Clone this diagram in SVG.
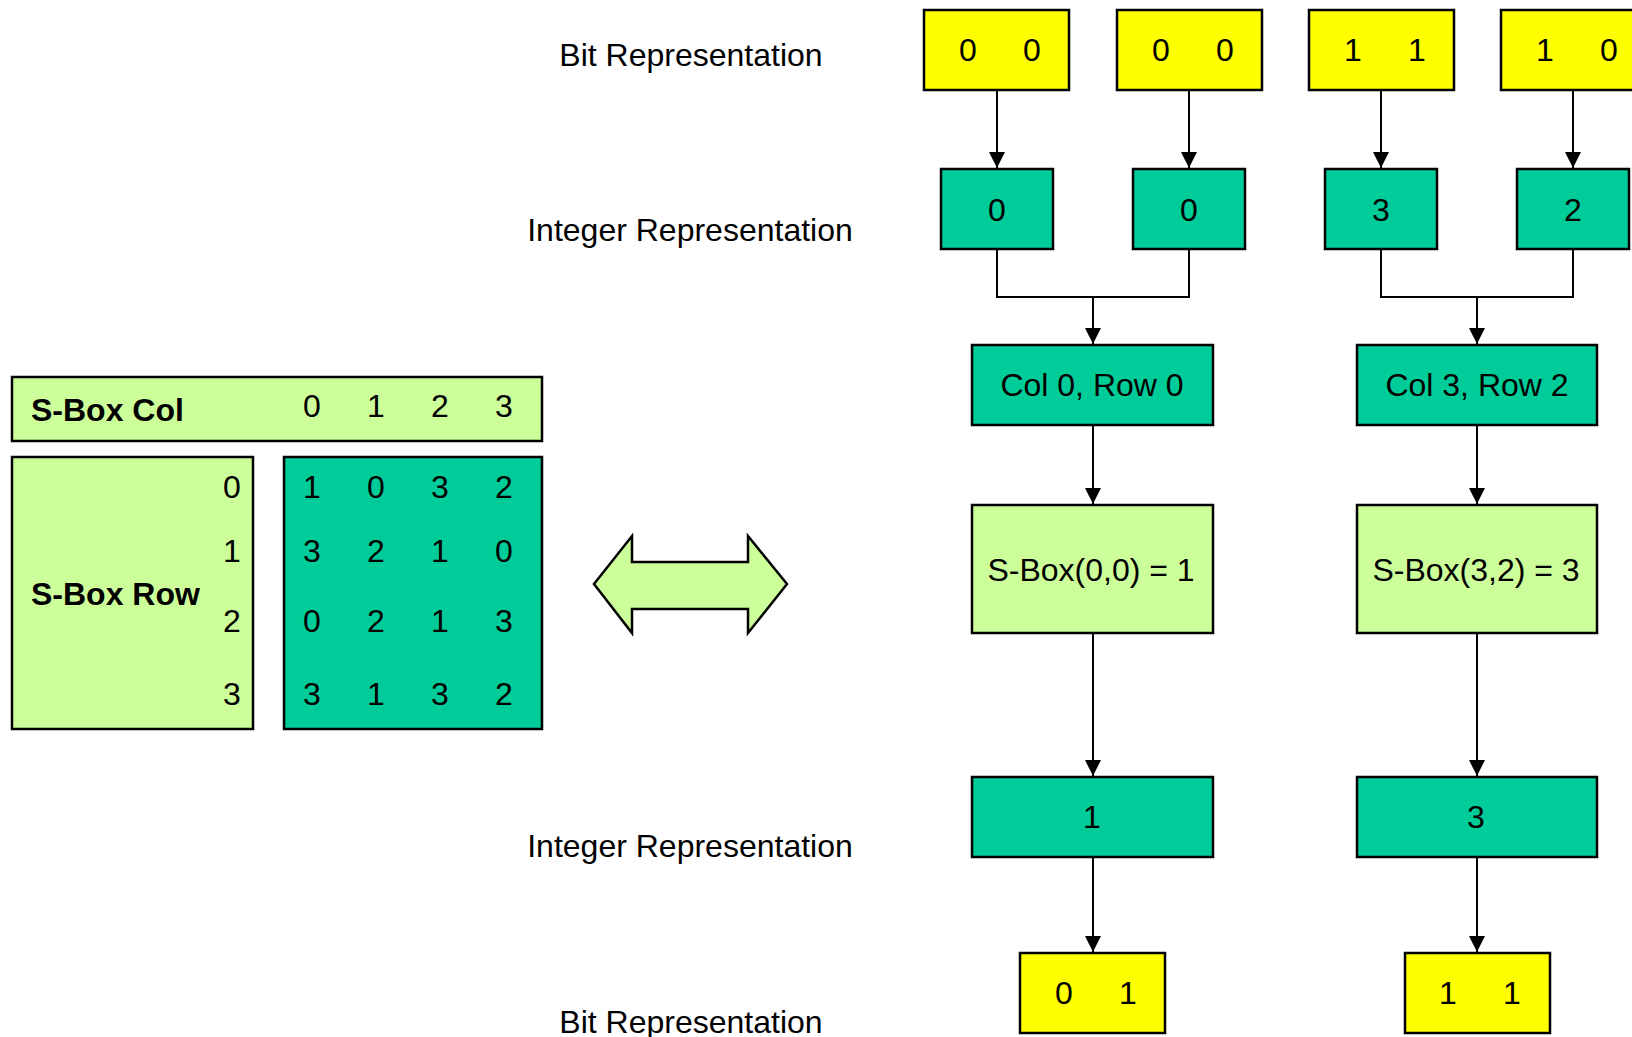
<svg xmlns="http://www.w3.org/2000/svg" width="1632" height="1037" viewBox="0 0 1632 1037">
  <style>
    text { font-family: "Liberation Sans", Arial, Helvetica, sans-serif; font-size: 32px; fill: #000; }
    .c { text-anchor: middle; }
    .b { font-weight: bold; }
    .box { stroke: #000; stroke-width: 2.5; }
    .yel { fill: #FFFF00; }
    .grn { fill: #00CC99; }
    .lgt { fill: #CCFF99; }
    .wire { fill: none; stroke: #000; stroke-width: 2; }
  </style>
  <defs>
    <marker id="head" markerUnits="userSpaceOnUse" markerWidth="16" markerHeight="16" viewBox="0 0 16 16" refX="16" refY="8" orient="auto">
      <path d="M0,0 L16,8 L0,16 z" fill="#000"/>
    </marker>
  </defs>
  <rect width="1632" height="1037" fill="#fff"/>

  <!-- row labels -->
  <g id="labels">
    <text class="c" x="691" y="66">Bit Representation</text>
    <text class="c" x="690" y="241">Integer Representation</text>
    <text class="c" x="690" y="857">Integer Representation</text>
    <text class="c" x="691" y="1033">Bit Representation</text>
  </g>

  <!-- S-Box lookup table -->
  <g id="sbox-col">
    <rect class="box lgt" x="12" y="377" width="530" height="64"/>
    <text class="b" x="31" y="421">S-Box Col</text>
    <text class="c" x="312" y="417">0</text>
    <text class="c" x="376" y="417">1</text>
    <text class="c" x="440" y="417">2</text>
    <text class="c" x="504" y="417">3</text>
  </g>
  <g id="sbox-row">
    <rect class="box lgt" x="12" y="457" width="241" height="272"/>
    <text class="b" x="31" y="605">S-Box Row</text>
    <text class="c" x="232" y="498">0</text>
    <text class="c" x="232" y="562">1</text>
    <text class="c" x="232" y="632">2</text>
    <text class="c" x="232" y="705">3</text>
  </g>
  <g id="sbox-values">
    <rect class="box grn" x="284" y="457" width="258" height="272"/>
    <text class="c" x="312" y="498">1</text><text class="c" x="376" y="498">0</text><text class="c" x="440" y="498">3</text><text class="c" x="504" y="498">2</text>
    <text class="c" x="312" y="562">3</text><text class="c" x="376" y="562">2</text><text class="c" x="440" y="562">1</text><text class="c" x="504" y="562">0</text>
    <text class="c" x="312" y="632">0</text><text class="c" x="376" y="632">2</text><text class="c" x="440" y="632">1</text><text class="c" x="504" y="632">3</text>
    <text class="c" x="312" y="705">3</text><text class="c" x="376" y="705">1</text><text class="c" x="440" y="705">3</text><text class="c" x="504" y="705">2</text>
  </g>

  <!-- double-headed block arrow -->
  <g id="equiv-arrow">
    <polygon class="box lgt" points="594,584 632,536 632,562 748,562 748,536 787,584 748,633 748,609 632,609 632,633"/>
  </g>

  <!-- input bit pairs -->
  <g id="bits-in-1"><rect class="box yel" x="924" y="10" width="145" height="80"/><text class="c" x="968" y="61">0</text><text class="c" x="1032" y="61">0</text></g>
  <g id="bits-in-2"><rect class="box yel" x="1117" y="10" width="145" height="80"/><text class="c" x="1161" y="61">0</text><text class="c" x="1225" y="61">0</text></g>
  <g id="bits-in-3"><rect class="box yel" x="1309" y="10" width="145" height="80"/><text class="c" x="1353" y="61">1</text><text class="c" x="1417" y="61">1</text></g>
  <g id="bits-in-4"><rect class="box yel" x="1501" y="10" width="145" height="80"/><text class="c" x="1545" y="61">1</text><text class="c" x="1609" y="61">0</text></g>

  <!-- integer values -->
  <g id="int-in-1"><rect class="box grn" x="941" y="169" width="112" height="80"/><text class="c" x="997" y="221">0</text></g>
  <g id="int-in-2"><rect class="box grn" x="1133" y="169" width="112" height="80"/><text class="c" x="1189" y="221">0</text></g>
  <g id="int-in-3"><rect class="box grn" x="1325" y="169" width="112" height="80"/><text class="c" x="1381" y="221">3</text></g>
  <g id="int-in-4"><rect class="box grn" x="1517" y="169" width="112" height="80"/><text class="c" x="1573" y="221">2</text></g>

  <!-- table coordinates -->
  <g id="coord-1"><rect class="box grn" x="972" y="345" width="241" height="80"/><text class="c" x="1092" y="396">Col 0, Row 0</text></g>
  <g id="coord-2"><rect class="box grn" x="1357" y="345" width="240" height="80"/><text class="c" x="1477" y="396">Col 3, Row 2</text></g>

  <!-- lookups -->
  <g id="lookup-1"><rect class="box lgt" x="972" y="505" width="241" height="128"/><text class="c" x="1091" y="581">S-Box(0,0) = 1</text></g>
  <g id="lookup-2"><rect class="box lgt" x="1357" y="505" width="240" height="128"/><text class="c" x="1476" y="581">S-Box(3,2) = 3</text></g>

  <!-- output integers -->
  <g id="int-out-1"><rect class="box grn" x="972" y="777" width="241" height="80"/><text class="c" x="1092" y="828">1</text></g>
  <g id="int-out-2"><rect class="box grn" x="1357" y="777" width="240" height="80"/><text class="c" x="1476" y="828">3</text></g>

  <!-- output bit pairs -->
  <g id="bits-out-1"><rect class="box yel" x="1020" y="953" width="145" height="80"/><text class="c" x="1064" y="1004">0</text><text class="c" x="1128" y="1004">1</text></g>
  <g id="bits-out-2"><rect class="box yel" x="1405" y="953" width="145" height="80"/><text class="c" x="1448" y="1004">1</text><text class="c" x="1512" y="1004">1</text></g>

  <!-- connectors -->
  <g id="connectors">
    <line class="wire" x1="997" y1="91" x2="997" y2="168" marker-end="url(#head)"/>
    <line class="wire" x1="1189" y1="91" x2="1189" y2="168" marker-end="url(#head)"/>
    <line class="wire" x1="1381" y1="91" x2="1381" y2="168" marker-end="url(#head)"/>
    <line class="wire" x1="1573" y1="91" x2="1573" y2="168" marker-end="url(#head)"/>

    <polyline class="wire" points="997,250 997,297 1189,297 1189,250"/>
    <polyline class="wire" points="1381,250 1381,297 1573,297 1573,250"/>
    <line class="wire" x1="1093" y1="297" x2="1093" y2="344" marker-end="url(#head)"/>
    <line class="wire" x1="1477" y1="297" x2="1477" y2="344" marker-end="url(#head)"/>

    <line class="wire" x1="1093" y1="426" x2="1093" y2="504" marker-end="url(#head)"/>
    <line class="wire" x1="1477" y1="426" x2="1477" y2="504" marker-end="url(#head)"/>
    <line class="wire" x1="1093" y1="634" x2="1093" y2="776" marker-end="url(#head)"/>
    <line class="wire" x1="1477" y1="634" x2="1477" y2="776" marker-end="url(#head)"/>
    <line class="wire" x1="1093" y1="858" x2="1093" y2="952" marker-end="url(#head)"/>
    <line class="wire" x1="1477" y1="858" x2="1477" y2="952" marker-end="url(#head)"/>
  </g>
</svg>
